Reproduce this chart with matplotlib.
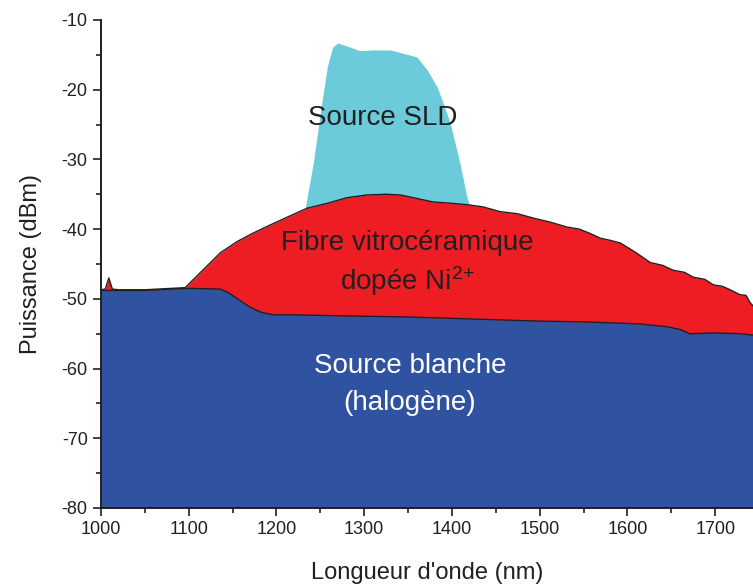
import numpy as np
import matplotlib
matplotlib.use("Agg")
import matplotlib.pyplot as plt
from matplotlib.ticker import MultipleLocator

plt.rcParams['font.family'] = ['Liberation Sans', 'DejaVu Sans']
plt.rcParams['mathtext.default'] = 'regular'
plt.rcParams['axes.unicode_minus'] = False

# halogen white source (blue)
wl_blue = [1000, 1050, 1080, 1100, 1136, 1145, 1158, 1170, 1182, 1196, 1220, 1260, 1300,
           1349, 1400, 1450, 1500, 1550, 1614, 1645, 1660, 1671, 1700, 1728, 1743]
p_blue = [-48.8, -48.8, -48.6, -48.5, -48.6, -49.1, -50.2, -51.2, -51.9, -52.3, -52.3, -52.4,
          -52.5, -52.6, -52.8, -53.0, -53.2, -53.3, -53.6, -54.0, -54.4, -55.0, -54.9, -55.0, -55.2]

# Ni-doped glass-ceramic fibre (red)
wl_red = [1000, 1005, 1009, 1013, 1020, 1050, 1080, 1096, 1116, 1136, 1155, 1173, 1193,
          1212, 1235, 1258, 1280, 1303, 1325, 1341, 1360, 1378, 1400, 1417, 1435, 1455,
          1475, 1492, 1512, 1531, 1545, 1557, 1569, 1580, 1592, 1610, 1626, 1640, 1652,
          1665, 1675, 1688, 1698, 1708, 1717, 1728, 1735, 1740, 1743]
p_red = [-48.7, -48.6, -47.0, -48.6, -48.7, -48.7, -48.5, -48.4, -45.9, -43.4, -41.8, -40.6,
         -39.4, -38.3, -37.0, -36.3, -35.5, -35.1, -35.0, -35.1, -35.6, -36.1, -36.3, -36.5,
         -36.8, -37.5, -37.8, -38.4, -39.0, -39.7, -40.0, -40.6, -41.3, -41.6, -42.0, -43.4,
         -44.8, -45.2, -45.9, -46.2, -46.9, -47.2, -48.0, -48.2, -48.7, -49.4, -49.5, -50.6, -51.0]

# SLD source (cyan)
wl_sld = [1225, 1233, 1242, 1250, 1258, 1264, 1270, 1284, 1295, 1310, 1330, 1345, 1360,
          1372, 1383, 1390, 1398, 1409, 1417, 1421, 1428]
p_sld = [-45.0, -36.8, -30.5, -23.3, -16.7, -13.9, -13.3, -13.9, -14.4, -14.3, -14.3, -14.8,
         -15.3, -17.2, -19.6, -21.9, -24.8, -30.5, -35.4, -37.0, -45.0]

txt = '#231f20'
fig = plt.figure(figsize=(7.53, 5.87), dpi=100)
ax = fig.add_axes([0.134, 0.1346, 0.866, 0.8314])

ax.fill_between(wl_sld, -80, p_sld, color='#6ccbdb', lw=0, zorder=1)
ax.fill_between(wl_red, -80, p_red, color='#ee1d24', lw=0, zorder=2)
ax.plot(wl_red, p_red, color='#231f20', lw=1.0, zorder=3)
ax.fill_between(wl_blue, -80, p_blue, color='#2f52a1', lw=0, zorder=4)
ax.plot(wl_blue, p_blue, color='#231f20', lw=1.0, zorder=5)

ax.text(1321, -24.1, 'Source SLD', fontsize=20, color=txt, ha='center', va='center', zorder=6)
ax.text(1349, -42.0, 'Fibre vitrocéramique', fontsize=20, color=txt, ha='center', va='center', zorder=6)
ax.text(1349, -47.4, 'dopée Ni$^{2{+}}$', fontsize=20, color=txt, ha='center', va='center', zorder=6)
ax.text(1352, -59.6, 'Source blanche', fontsize=20, color='white', ha='center', va='center', zorder=6)
ax.text(1352, -64.9, '(halogène)', fontsize=20, color='white', ha='center', va='center', zorder=6)

ax.set_xlim(1000, 1743)
ax.set_ylim(-80, -10)
ax.xaxis.set_major_locator(MultipleLocator(100))
ax.xaxis.set_minor_locator(MultipleLocator(50))
ax.yaxis.set_major_locator(MultipleLocator(10))
ax.yaxis.set_minor_locator(MultipleLocator(5))
ax.tick_params(which='major', direction='out', length=6, width=1.2, labelsize=13, colors=txt)
ax.tick_params(which='minor', direction='out', length=3.5, width=1.2, colors=txt)
for s in ['top', 'right']:
    ax.spines[s].set_visible(False)
for s in ['left', 'bottom']:
    ax.spines[s].set_linewidth(1.4)
    ax.spines[s].set_color(txt)
    ax.spines[s].set_zorder(7)

ax.set_xlabel("Longueur d'onde (nm)", fontsize=17, color=txt, labelpad=17)
ax.set_ylabel('Puissance (dBm)', fontsize=17, color=txt, labelpad=14)

fig.savefig('out.png', dpi=100)
